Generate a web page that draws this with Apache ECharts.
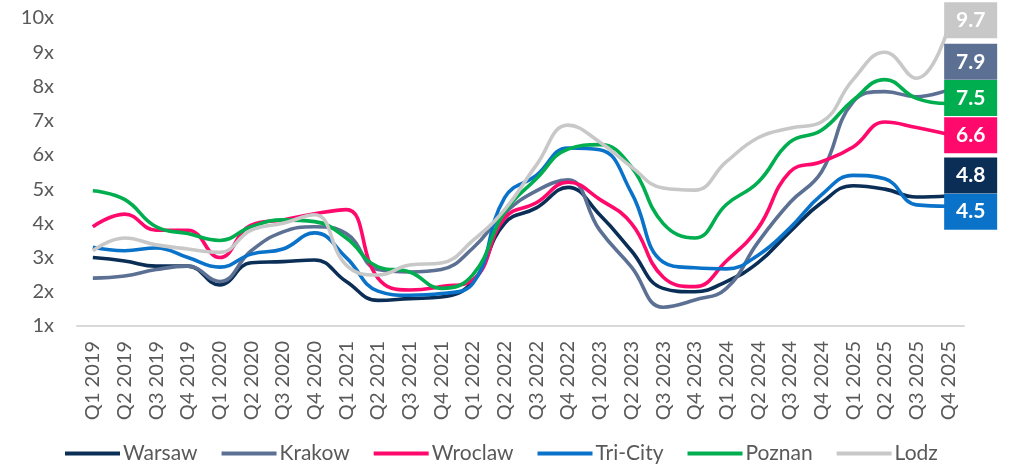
<!DOCTYPE html>
<html>
<head>
<meta charset="utf-8">
<script src="https://cdn.jsdelivr.net/npm/echarts@6/dist/echarts.min.js"></script>
<style>
  html, body { margin: 0; padding: 0; background: #ffffff; }
  #chart { width: 1011px; height: 466px; }
</style>
</head>
<body>
<div id="chart"></div>
<script>
// Quarterly categories
const quarters = [
  'Q1 2019','Q2 2019','Q3 2019','Q4 2019',
  'Q1 2020','Q2 2020','Q3 2020','Q4 2020',
  'Q1 2021','Q2 2021','Q3 2021','Q4 2021',
  'Q1 2022','Q2 2022','Q3 2022','Q4 2022',
  'Q1 2023','Q2 2023','Q3 2023','Q4 2023',
  'Q1 2024','Q2 2024','Q3 2024','Q4 2024',
  'Q1 2025','Q2 2025','Q3 2025','Q4 2025'
];

// City series (multiples)
const warsaw  = [3.0, 2.9, 2.75, 2.75, 2.2, 2.85, 2.88, 2.93, 2.3, 1.75, 1.8, 1.85, 2.3, 4.0, 4.45, 5.05, 4.25, 3.2, 2.1, 2.0, 2.3, 2.85, 3.75, 4.6, 5.1, 5.0, 4.77, 4.8];
const krakow  = [2.4, 2.46, 2.65, 2.75, 2.3, 3.2, 3.75, 3.9, 3.7, 2.65, 2.58, 2.65, 3.28, 4.3, 4.95, 5.27, 3.8, 2.73, 1.55, 1.76, 2.1, 3.45, 4.6, 5.5, 7.55, 7.85, 7.7, 7.9];
const wroclaw = [3.9, 4.27, 3.8, 3.8, 3.0, 3.95, 4.1, 4.28, 4.4, 2.4, 2.05, 2.15, 2.35, 4.15, 4.6, 5.2, 4.7, 4.0, 2.43, 2.15, 2.9, 3.86, 5.5, 5.8, 6.23, 6.96, 6.8, 6.6];
const tricity = [3.3, 3.2, 3.28, 3.0, 2.72, 3.1, 3.25, 3.72, 3.0, 2.02, 1.9, 1.95, 2.25, 4.75, 5.4, 6.2, 6.15, 4.9, 2.87, 2.7, 2.67, 3.07, 3.86, 4.83, 5.4, 5.3, 4.54, 4.5];
const poznan  = [4.95, 4.7, 3.9, 3.7, 3.5, 3.9, 4.1, 4.05, 3.57, 2.73, 2.58, 2.1, 2.5, 4.33, 5.3, 6.17, 6.3, 5.65, 4.0, 3.57, 4.55, 5.2, 6.37, 6.72, 7.6, 8.2, 7.65, 7.5];
const lodz    = [3.2, 3.57, 3.37, 3.25, 3.15, 3.8, 4.0, 4.25, 2.78, 2.49, 2.78, 2.84, 3.5, 4.4, 5.7, 6.87, 6.38, 5.65, 5.03, 4.97, 5.8, 6.5, 6.78, 6.96, 8.2, 9.0, 8.24, 9.7];

// Y axis range and ticks
const yMin = 1, yMax = 10, yStep = 1;

// Colour and vertical shift of each end-of-line value box
const cities = [
  { name: 'Warsaw',   data: warsaw,  color: '#0B2E57', dy: -20.5 },
  { name: 'Krakow',   data: krakow,  color: '#5B7093', dy: -28 },
  { name: 'Wroclaw',  data: wroclaw, color: '#FF0A6C', dy: 1 },
  { name: 'Tri-City', data: tricity, color: '#0A73C9', dy: 5.5 },
  { name: 'Poznan',   data: poznan,  color: '#00AE4F', dy: -5.5 },
  { name: 'Lodz',     data: lodz,    color: '#C8C8C8', dy: -8 }
];

const FONT = 'Lato, "Open Sans", sans-serif';
const TEXT = '#595959';

const series = cities.map(c => ({
  name: c.name,
  type: 'line',
  data: c.data,
  smooth: 0.45,
  symbol: 'none',
  showSymbol: false,
  lineStyle: { width: 3.6, color: c.color },
  itemStyle: { color: c.color },
  endLabel: {
    show: true,
    distance: 0,
    offset: [-4, c.dy],
    formatter: p => '{b|' + Number(p.value).toFixed(1) + '}',
    rich: {
      b: {
        width: 53,
        height: 36,
        lineHeight: 36,
        align: 'center',
        backgroundColor: c.color,
        color: '#ffffff',
        fontFamily: FONT,
        fontWeight: 'bold',
        fontSize: 21
      }
    }
  },
  z: 2
}));

const chart = echarts.init(document.getElementById('chart'), null, { renderer: 'canvas' });
chart.setOption({
  animation: false,
  backgroundColor: '#ffffff',
  grid: { left: 77, right: 47, top: 18, bottom: 140, containLabel: false },
  xAxis: {
    type: 'category',
    data: quarters,
    boundaryGap: true,
    axisLine: { show: true, lineStyle: { color: '#D9D9D9', width: 2 } },
    axisTick: { show: false },
    axisLabel: {
      rotate: 90,
      margin: 15,
      interval: 0,
      color: TEXT,
      fontFamily: FONT,
      fontSize: 20
    },
    splitLine: { show: false }
  },
  yAxis: {
    type: 'value',
    min: yMin,
    max: yMax,
    interval: yStep,
    axisLine: { show: false },
    axisTick: { show: false },
    splitLine: { show: false },
    axisLabel: {
      margin: 23,
      color: TEXT,
      fontFamily: FONT,
      fontSize: 20,
      formatter: v => v + 'x'
    }
  },
  legend: {
    left: 60,
    top: 438,
    icon: 'rect',
    itemWidth: 55,
    itemHeight: 4,
    itemGap: 24,
    textStyle: { color: TEXT, fontFamily: FONT, fontSize: 21, padding: [0, 0, 0, -2] },
    data: cities.map(c => c.name)
  },
  series: series
});
</script>
</body>
</html>
